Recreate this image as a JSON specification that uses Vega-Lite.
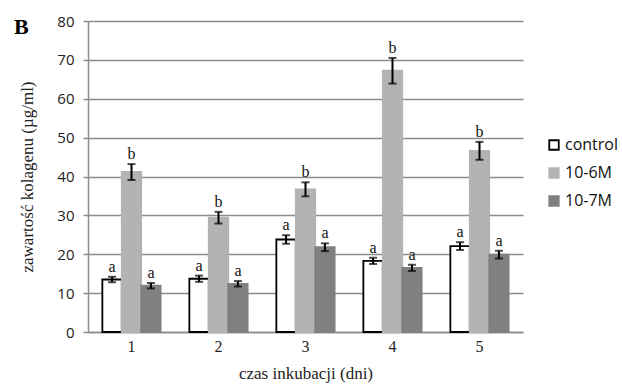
{
  "$schema": "https://vega.github.io/schema/vega-lite/v6.json",
  "autosize": "none",
  "width": 435,
  "height": 311,
  "padding": {"left": 88, "top": 21, "right": 99, "bottom": 53},
  "background": "white",
  "title": {"text": "B", "anchor": "start", "frame": "group", "font": "Liberation Serif", "fontSize": 22, "fontWeight": "bold", "color": "#000", "dx": -74, "dy": 42, "offset": 0, "baseline": "alphabetic"},
  "config": {"view": {"stroke": null}},
  "data": {"values": [
    {"day": "1", "group": "control", "value": 13.5, "lo": 12.8, "hi": 14.2, "letter": "a"},
    {"day": "1", "group": "10-6M", "value": 41.2, "lo": 39.1, "hi": 43.2, "letter": "b"},
    {"day": "1", "group": "10-7M", "value": 11.9, "lo": 11.2, "hi": 12.6, "letter": "a"},
    {"day": "2", "group": "control", "value": 13.7, "lo": 12.9, "hi": 14.5, "letter": "a"},
    {"day": "2", "group": "10-6M", "value": 29.4, "lo": 27.9, "hi": 30.9, "letter": "b"},
    {"day": "2", "group": "10-7M", "value": 12.4, "lo": 11.7, "hi": 13.1, "letter": "a"},
    {"day": "3", "group": "control", "value": 23.8, "lo": 22.7, "hi": 24.9, "letter": "a"},
    {"day": "3", "group": "10-6M", "value": 36.7, "lo": 34.9, "hi": 38.5, "letter": "b"},
    {"day": "3", "group": "10-7M", "value": 21.8, "lo": 20.8, "hi": 22.8, "letter": "a"},
    {"day": "4", "group": "control", "value": 18.3, "lo": 17.5, "hi": 19.1, "letter": "a"},
    {"day": "4", "group": "10-6M", "value": 67.2, "lo": 63.9, "hi": 70.5, "letter": "b"},
    {"day": "4", "group": "10-7M", "value": 16.5, "lo": 15.7, "hi": 17.3, "letter": "a"},
    {"day": "5", "group": "control", "value": 22.1, "lo": 21.1, "hi": 23.1, "letter": "a"},
    {"day": "5", "group": "10-6M", "value": 46.6, "lo": 44.3, "hi": 48.9, "letter": "b"},
    {"day": "5", "group": "10-7M", "value": 19.9, "lo": 18.9, "hi": 20.9, "letter": "a"}
  ]},
  "encoding": {
    "x": {"field": "day", "type": "nominal", "sort": ["1","2","3","4","5"],
      "scale": {"paddingInner": 0.33, "paddingOuter": 0.165},
      "axis": {"title": "czas inkubacji (dni)", "labelAngle": 0, "ticks": false, "domainColor": "#8c8c8c", "domainWidth": 1.5,
        "labelFont": "Liberation Serif", "labelFontSize": 16, "labelColor": "#222", "labelPadding": 6,
        "titleFont": "Liberation Serif", "titleFontSize": 17, "titleFontWeight": "normal", "titleColor": "#222", "titlePadding": 11}},
    "xOffset": {"field": "group", "type": "nominal", "sort": ["control","10-6M","10-7M"], "scale": {"paddingInner": 0, "paddingOuter": 0}}
  },
  "layer": [
    {
      "mark": {"type": "bar", "strokeWidth": 1.8},
      "encoding": {
        "y": {"field": "value", "type": "quantitative",
          "scale": {"domain": [0, 80], "nice": false},
          "axis": {"title": "zawartość kolagenu (µg/ml)", "values": [0,10,20,30,40,50,60,70,80], "labelOverlap": false, "grid": true, "gridColor": "#8c8c8c", "gridWidth": 1.5,
            "domainColor": "#8c8c8c", "domainWidth": 1.5, "tickColor": "#8c8c8c", "tickWidth": 1.5, "tickSize": 5,
            "labelFont": "Open Sans", "labelFontSize": 15, "labelColor": "#222", "labelPadding": 9,
            "titleFont": "Liberation Serif", "titleFontSize": 17, "titleFontWeight": "normal", "titleColor": "#222", "titlePadding": 20}},
        "fill": {"field": "group", "type": "nominal", "sort": ["control","10-6M","10-7M"],
          "scale": {"domain": ["control","10-6M","10-7M"], "range": ["#ffffff","#b3b3b3","#808080"]},
          "legend": {"title": null, "orient": "none", "legendX": 458, "legendY": 116, "symbolType": "square", "symbolSize": 90, "symbolStrokeWidth": 1.8,
            "labelFont": "Open Sans", "labelFontSize": 16, "labelColor": "#111", "rowPadding": 10, "labelOffset": 3}},
        "stroke": {"field": "group", "type": "nominal", "sort": ["control","10-6M","10-7M"],
          "scale": {"domain": ["control","10-6M","10-7M"], "range": ["#000000","#b3b3b3","#808080"]},
          "legend": null}
      }
    },
    {
      "mark": {"type": "rule", "color": "#000", "strokeWidth": 2},
      "encoding": {"y": {"field": "lo", "type": "quantitative",
          "axis": {"title": "zawartość kolagenu (µg/ml)", "values": [0,10,20,30,40,50,60,70,80], "labelOverlap": false, "grid": true, "gridColor": "#8c8c8c", "gridWidth": 1.5,
            "domainColor": "#8c8c8c", "domainWidth": 1.5, "tickColor": "#8c8c8c", "tickWidth": 1.5, "tickSize": 5,
            "labelFont": "Open Sans", "labelFontSize": 15, "labelColor": "#222", "labelPadding": 9,
            "titleFont": "Liberation Serif", "titleFontSize": 17, "titleFontWeight": "normal", "titleColor": "#222", "titlePadding": 20}},
        "y2": {"field": "hi"}}
    },
    {
      "mark": {"type": "tick", "color": "#000", "size": 8, "thickness": 2, "orient": "horizontal"},
      "encoding": {"y": {"field": "lo", "type": "quantitative",
          "axis": {"title": "zawartość kolagenu (µg/ml)", "values": [0,10,20,30,40,50,60,70,80], "labelOverlap": false, "grid": true, "gridColor": "#8c8c8c", "gridWidth": 1.5,
            "domainColor": "#8c8c8c", "domainWidth": 1.5, "tickColor": "#8c8c8c", "tickWidth": 1.5, "tickSize": 5,
            "labelFont": "Open Sans", "labelFontSize": 15, "labelColor": "#222", "labelPadding": 9,
            "titleFont": "Liberation Serif", "titleFontSize": 17, "titleFontWeight": "normal", "titleColor": "#222", "titlePadding": 20}}}
    },
    {
      "mark": {"type": "tick", "color": "#000", "size": 8, "thickness": 2, "orient": "horizontal"},
      "encoding": {"y": {"field": "hi", "type": "quantitative",
          "axis": {"title": "zawartość kolagenu (µg/ml)", "values": [0,10,20,30,40,50,60,70,80], "labelOverlap": false, "grid": true, "gridColor": "#8c8c8c", "gridWidth": 1.5,
            "domainColor": "#8c8c8c", "domainWidth": 1.5, "tickColor": "#8c8c8c", "tickWidth": 1.5, "tickSize": 5,
            "labelFont": "Open Sans", "labelFontSize": 15, "labelColor": "#222", "labelPadding": 9,
            "titleFont": "Liberation Serif", "titleFontSize": 17, "titleFontWeight": "normal", "titleColor": "#222", "titlePadding": 20}}}
    },
    {
      "mark": {"type": "text", "font": "Liberation Serif", "fontSize": 16, "baseline": "alphabetic", "dy": -5, "color": "#111"},
      "encoding": {"y": {"field": "hi", "type": "quantitative",
          "axis": {"title": "zawartość kolagenu (µg/ml)", "values": [0,10,20,30,40,50,60,70,80], "labelOverlap": false, "grid": true, "gridColor": "#8c8c8c", "gridWidth": 1.5,
            "domainColor": "#8c8c8c", "domainWidth": 1.5, "tickColor": "#8c8c8c", "tickWidth": 1.5, "tickSize": 5,
            "labelFont": "Open Sans", "labelFontSize": 15, "labelColor": "#222", "labelPadding": 9,
            "titleFont": "Liberation Serif", "titleFontSize": 17, "titleFontWeight": "normal", "titleColor": "#222", "titlePadding": 20}},
        "text": {"field": "letter"}}
    }
  ]
}
